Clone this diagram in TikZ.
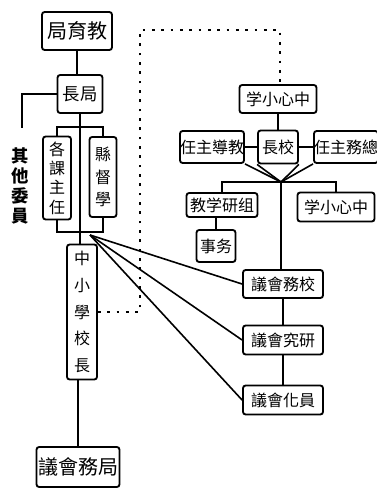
\documentclass[tikz,border=0pt]{standalone}
\usepackage{fontspec}
\newfontfamily\cjk{Noto Sans CJK TC}
\begin{document}
\begin{tikzpicture}[x=0.75pt,y=-0.75pt,
  box/.style 2 args={draw,line width=1.4pt,rounded corners=2pt,inner sep=0pt,
     minimum width=#1*0.75pt,minimum height=#2*0.75pt,font=\cjk\fontsize{12}{13}\selectfont,align=center},
  vfont/.style={font=\cjk\fontsize{12}{#1}\selectfont},
  ln/.style={line width=1.2pt},
  dt/.style={line width=2pt,dash pattern=on 2pt off 5pt}]
\useasboundingbox (0,0) rectangle (377,492);
% left column
\node[box={70}{38},font=\cjk\fontsize{15}{16}\selectfont] (jyj) at (77,31) {局育教};
\node[box={45}{38},font=\cjk\fontsize{13}{14}\selectfont] (jz) at (80,94) {長局};
\node[font=\cjk\bfseries\fontsize{13}{15}\selectfont,align=center,inner sep=0pt] (qt) at (20,186) {其\\他\\委\\員};
\node[box={28}{83},vfont=14.5] (gk) at (57,178) {各\\課\\主\\任};
\node[box={27}{80},vfont=17] (xd) at (103,177) {縣\\督\\學};
\node[box={30}{135},vfont=20] (zx) at (82,312) {中\\小\\學\\校\\長};
\node[box={83}{40},font=\cjk\fontsize{15}{16}\selectfont] (jw) at (78,467) {議會務局};
% right column
\node[box={77}{28}] (zxr) at (278,99) {学小心中};
\node[box={40}{33}] (xz) at (278,147) {長校};
\node[box={60}{32}] (jd) at (212,147) {任主導教};
\node[box={60}{32}] (zw) at (346,147) {任主務總};
\node[box={71}{24}] (jy) at (222,205) {教学研组};
\node[box={77}{29}] (zx2) at (336,207) {学小心中};
\node[box={39}{32}] (sw) at (216,246) {事务};
\node[box={80}{28}] (r1) at (283,284) {議會務校};
\node[box={80}{29}] (r2) at (283,340) {議會究研};
\node[box={80}{29}] (r3) at (283,400) {議會化員};
% coordinates
\coordinate (qtop) at (22,128);
\coordinate (bt) at (80,127);
\coordinate (bb) at (80,232);
\coordinate (m) at (281,182);
\coordinate (f) at (90,235);
% left connectors
\draw[ln] (jyj.south) -- (jyj.south |- jz.north);
\draw[ln] (jz.west) -| (qtop);
\draw[ln] (jz.south) -- (jz.south |- zx.north);
\draw[ln] (gk.north) |- (bt) -| (xd.north);
\draw[ln] (gk.south) |- (bb) -| (xd.south);
\draw[ln] (zx.south -| jw.north) -- (jw.north);
% dotted link
\draw[dt] (zx.east) -- (140,312) -- (140,30) -- (280,30) -- (zxr.north -| 280,0);
% right connectors
\draw[ln] (zxr.south) -- (xz.north);
\draw[ln] (jd.east) -- (xz.west);
\draw[ln] (xz.east) -- (zw.west);
\draw[ln] (jd.south east) -- (m) -- (zw.south west);
\draw[ln] (xz.south west) -- (m) -- (xz.south east);
\draw[ln] (jy.north) |- (m) -| (zx2.north);
\draw[ln] (jy.south -| sw.north) -- (sw.north);
\draw[ln] (m) -- (m |- r1.north);
\draw[ln] (r1.south) -- (r2.north);
\draw[ln] (r2.south) -- (r3.north);
% fan
\draw[ln] (f) -- (r1.west);
\draw[ln] (f) -- (r2.west);
\draw[ln] (f) -- (r3.west);
\end{tikzpicture}
\end{document}
